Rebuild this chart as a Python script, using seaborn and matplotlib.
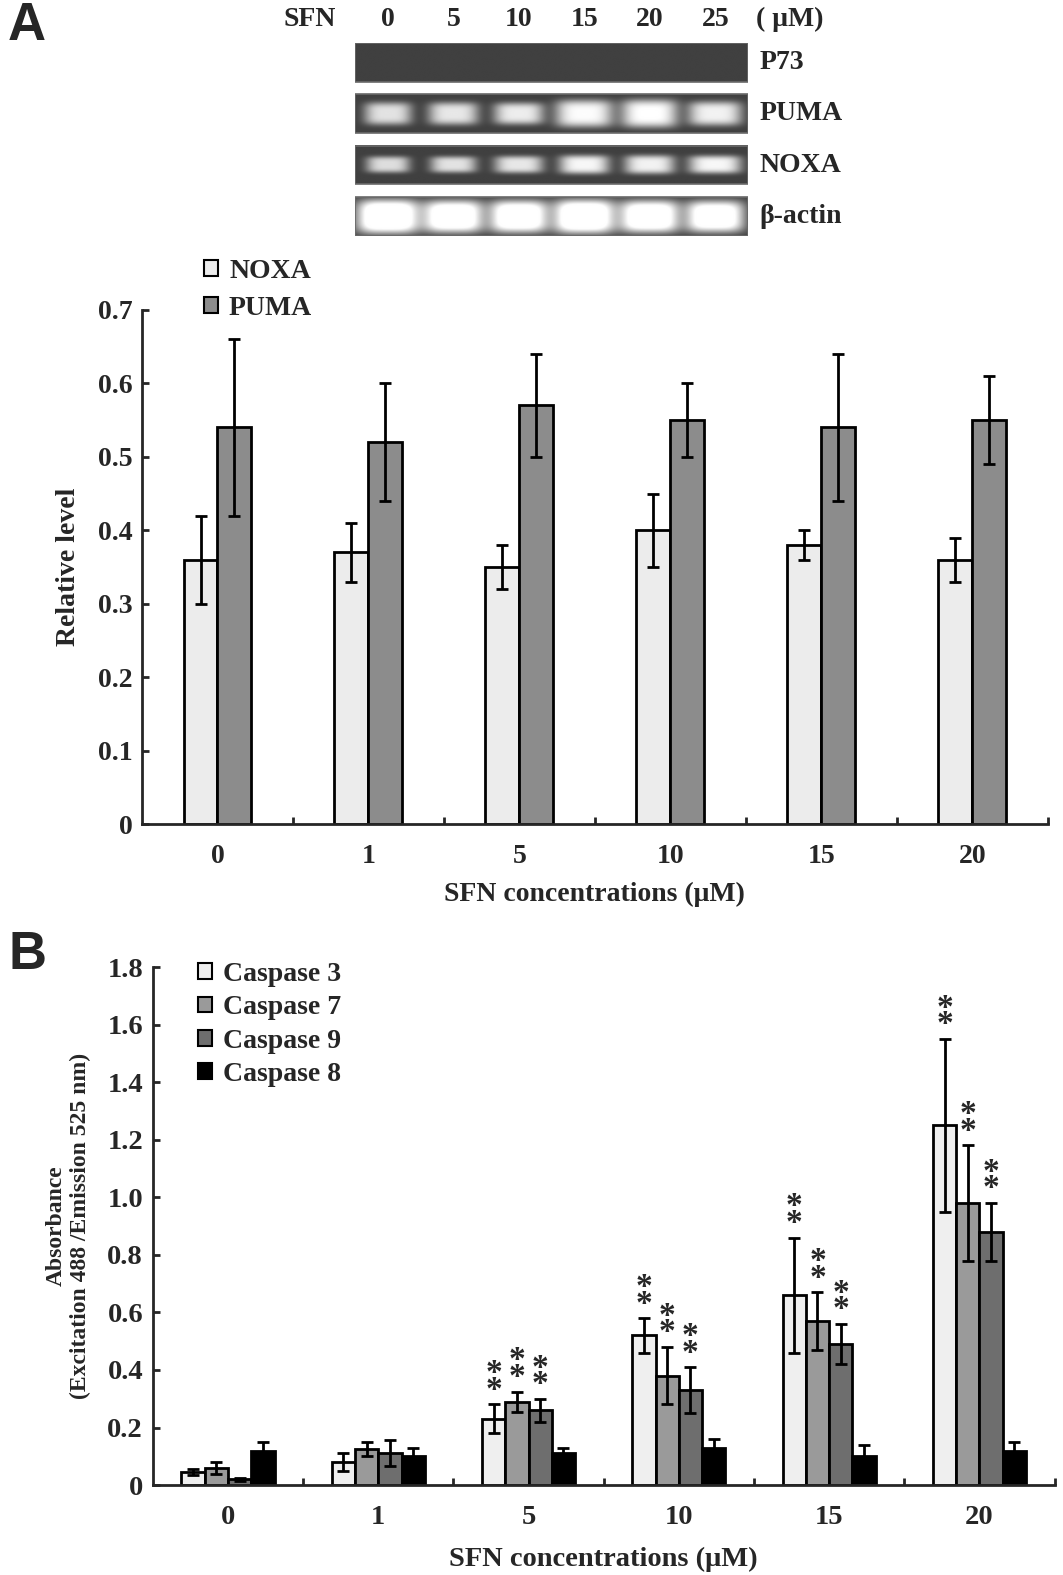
import numpy as np
import pandas as pd
import matplotlib
matplotlib.use("Agg")
import matplotlib.pyplot as plt
from matplotlib.patches import Patch
import seaborn as sns

# ---- panel A: RT-PCR quantification ----
conc_a = ["0", "1", "5", "10", "15", "20"]
noxa_mean = [0.36, 0.37, 0.35, 0.40, 0.38, 0.36]
noxa_sd = [0.06, 0.04, 0.03, 0.05, 0.02, 0.03]
puma_mean = [0.54, 0.52, 0.57, 0.55, 0.54, 0.55]
puma_sd = [0.12, 0.08, 0.07, 0.05, 0.10, 0.06]

# ---- panel B: caspase activity ----
conc_b = ["0", "1", "5", "10", "15", "20"]
casp3_mean = [0.045, 0.08, 0.23, 0.52, 0.66, 1.25]
casp3_sd = [0.01, 0.03, 0.05, 0.06, 0.20, 0.30]
casp7_mean = [0.06, 0.125, 0.29, 0.38, 0.57, 0.98]
casp7_sd = [0.02, 0.025, 0.035, 0.10, 0.10, 0.20]
casp9_mean = [0.02, 0.11, 0.26, 0.33, 0.49, 0.88]
casp9_sd = [0.005, 0.045, 0.04, 0.08, 0.07, 0.10]
casp8_mean = [0.12, 0.10, 0.11, 0.13, 0.10, 0.12]
casp8_sd = [0.03, 0.03, 0.02, 0.03, 0.04, 0.03]
signif_b = [False, False, True, True, True, True]  # ** on caspase 3/7/9

# ---- gel picture (band brightness / size per lane) ----
gel_lanes = ["0", "5", "10", "15", "20", "25"]
gel_rows = ["P73", "PUMA", "NOXA", "β-actin"]
p73_band = [0, 0, 0, 0, 0, 0]
puma_band = [0.64, 0.66, 0.68, 0.74, 0.76, 0.70]
noxa_band = [0.62, 0.64, 0.66, 0.72, 0.70, 0.72]
actin_band = [1.0, 0.95, 0.95, 1.0, 0.95, 0.92]
puma_width = [0.72, 0.76, 0.76, 0.88, 0.86, 0.82]
noxa_width = [0.66, 0.70, 0.74, 0.76, 0.76, 0.80]
actin_width = [0.96, 0.92, 0.90, 0.94, 0.92, 0.90]
puma_height = [0.58, 0.58, 0.56, 0.70, 0.72, 0.62]
noxa_height = [0.42, 0.42, 0.44, 0.48, 0.48, 0.46]
actin_height = [0.88, 0.84, 0.84, 0.88, 0.84, 0.82]

sns.set_style("ticks")
plt.rcParams["font.family"] = ["Liberation Serif", "DejaVu Serif"]
plt.rcParams["font.weight"] = "bold"
plt.rcParams["axes.linewidth"] = 2

fig = plt.figure(figsize=(10.63, 15.75), dpi=100)

serif_b = dict(family=["Liberation Serif", "DejaVu Serif"], weight="bold")


def band_image(intens, widths, heights):
    xs = np.linspace(0, 6, 600)
    ys = np.linspace(0, 1, 60)
    X, Y = np.meshgrid(xs, ys)
    img = np.full_like(X, 0.25)
    for i, (a, w, h) in enumerate(zip(intens, widths, heights)):
        img += a * np.exp(-np.abs((X - (i + 0.5)) / (w / 2)) ** 4
                          - np.abs((Y - 0.5) / (h / 2)) ** 4)
    return np.clip(img, 0, 1)


# gel
ax_g = fig.add_axes([0.334, 0.8502, 0.3697, 0.1225])
bands = [(p73_band, [0.5] * 6, [0.3] * 6),
         (puma_band, puma_width, puma_height),
         (noxa_band, noxa_width, noxa_height),
         (actin_band, actin_width, actin_height)]
for r, (name, (inten, wid, hgt)) in enumerate(zip(gel_rows, bands)):
    ax_g.imshow(band_image(inten, wid, hgt), cmap="gray", vmin=0, vmax=1,
                extent=(0, 6, r + 0.75, r), aspect="auto", interpolation="bicubic")
    ax_g.add_patch(plt.Rectangle((0, r), 6, 0.75, fill=False, edgecolor="#6a6a6a",
                                 linewidth=1.2))
    ax_g.text(6.18, r + 0.38, name, ha="left", va="center", fontsize=20, **serif_b)
ax_g.set_xlim(0, 6)
ax_g.set_ylim(3.75, 0)
ax_g.axis("off")
for i, lab in enumerate(gel_lanes):
    ax_g.text(i + 0.5, -0.45, lab, ha="center", va="center", fontsize=20, **serif_b)
ax_g.text(-0.69, -0.45, "SFN", ha="center", va="center", fontsize=20, **serif_b)
ax_g.text(6.64, -0.45, "( μM)", ha="center", va="center", fontsize=20, **serif_b)

# panel A chart
ax_a = fig.add_axes([0.1336, 0.4768, 0.852, 0.3264])
df_a = pd.DataFrame({
    "conc": conc_a * 2,
    "gene": ["NOXA"] * 6 + ["PUMA"] * 6,
    "level": noxa_mean + puma_mean,
})
pal_a = {"NOXA": "#ececec", "PUMA": "#8c8c8c"}
sns.barplot(data=df_a, x="conc", y="level", hue="gene", order=conc_a,
            hue_order=["NOXA", "PUMA"], palette=pal_a, width=0.45,
            errorbar=None, edgecolor="black", linewidth=2, legend=False, ax=ax_a)
for cont, sd in zip(ax_a.containers, [noxa_sd, puma_sd]):
    xs = [p.get_x() + p.get_width() / 2 for p in cont]
    ys = [p.get_height() for p in cont]
    ax_a.errorbar(xs, ys, yerr=sd, fmt="none", ecolor="black", elinewidth=2,
                  capsize=4, capthick=2)
ax_a.set_xlim(-0.5, 5.5)
ax_a.set_ylim(0, 0.7)
ax_a.set_yticks(np.arange(0, 0.71, 0.1))
ax_a.set_yticklabels(["0"] + [f"{v:.1f}" for v in np.arange(0.1, 0.71, 0.1)])
ax_a.set_ylabel("Relative level", fontsize=20, labelpad=12, **serif_b)
ax_a.set_xlabel("SFN concentrations (μM)", fontsize=20, labelpad=9, **serif_b)

leg_a = [Patch(facecolor=pal_a[k], edgecolor="black", linewidth=1.5, label=k)
         for k in ["NOXA", "PUMA"]]
fig.legend(handles=leg_a, loc="upper left", bbox_to_anchor=(179 / 1063, 1 - 234 / 1575),
           frameon=False, prop=dict(size=20, **serif_b), handlelength=0.5,
           handleheight=0.5, handletextpad=0.4, labelspacing=0.44)

# panel B chart
ax_b = fig.add_axes([0.1437, 0.0571, 0.8484, 0.3289])
names_b = ["Caspase 3", "Caspase 7", "Caspase 9", "Caspase 8"]
df_b = pd.DataFrame({
    "conc": conc_b * 4,
    "enzyme": sum([[n] * 6 for n in names_b], []),
    "absorb": casp3_mean + casp7_mean + casp9_mean + casp8_mean,
})
pal_b = {"Caspase 3": "#efefef", "Caspase 7": "#9a9a9a",
         "Caspase 9": "#6e6e6e", "Caspase 8": "#000000"}
sns.barplot(data=df_b, x="conc", y="absorb", hue="enzyme", order=conc_b,
            hue_order=names_b, palette=pal_b, width=0.62, errorbar=None,
            edgecolor="black", linewidth=2, legend=False, ax=ax_b)
sds_b = [casp3_sd, casp7_sd, casp9_sd, casp8_sd]
for k, (cont, sd) in enumerate(zip(ax_b.containers, sds_b)):
    xs = [p.get_x() + p.get_width() / 2 for p in cont]
    ys = [p.get_height() for p in cont]
    ax_b.errorbar(xs, ys, yerr=sd, fmt="none", ecolor="black", elinewidth=2,
                  capsize=4, capthick=2)
    if k < 3:
        for x, y, s, flag in zip(xs, ys, sd, signif_b):
            if flag:
                ax_b.text(x, y + s - 0.005, "*\n*", ha="center", va="bottom",
                          fontsize=24, linespacing=0.4, **serif_b)
ax_b.set_xlim(-0.5, 5.5)
ax_b.set_ylim(0, 1.8)
ax_b.set_yticks(np.arange(0, 1.81, 0.2))
ax_b.set_yticklabels(["0"] + [f"{v:.1f}" for v in np.arange(0.2, 1.81, 0.2)])
ax_b.set_ylabel("Absorbance\n(Excitation 488 /Emission 525 nm)", fontsize=17,
                labelpad=12, linespacing=1.15, **serif_b)
ax_b.set_xlabel("SFN concentrations (μM)", fontsize=20.5, labelpad=12, **serif_b)

leg_b = [Patch(facecolor=pal_b[k], edgecolor="black", linewidth=1.5, label=k)
         for k in names_b]
fig.legend(handles=leg_b, loc="upper left", bbox_to_anchor=(173 / 1063, 1 - 937 / 1575),
           frameon=False, prop=dict(size=20, **serif_b), handlelength=0.5,
           handleheight=0.5, handletextpad=0.4, labelspacing=0.3)

for ax, fs in [(ax_a, 20), (ax_b, 20.5)]:
    sns.despine(ax=ax)
    ax.set_xticks(np.arange(0.5, 6, 1), minor=True)
    ax.tick_params(axis="x", which="major", length=0, pad=14.5, labelsize=fs)
    ax.tick_params(axis="x", which="minor", direction="in", length=5, width=2)
    ax.tick_params(axis="y", direction="in", length=5, width=2, labelsize=fs, pad=7)
    for lab in ax.get_xticklabels() + ax.get_yticklabels():
        lab.set_fontweight("bold")

fig.text(8 / 1063, 1 - 26 / 1575, "A", fontsize=38, ha="left", va="center",
         family=["Liberation Sans", "DejaVu Sans"], weight="bold")
fig.text(8 / 1063, 1 - 955 / 1575, "B", fontsize=38, ha="left", va="center",
         family=["Liberation Sans", "DejaVu Sans"], weight="bold")

fig.savefig("out.png", dpi=100)
